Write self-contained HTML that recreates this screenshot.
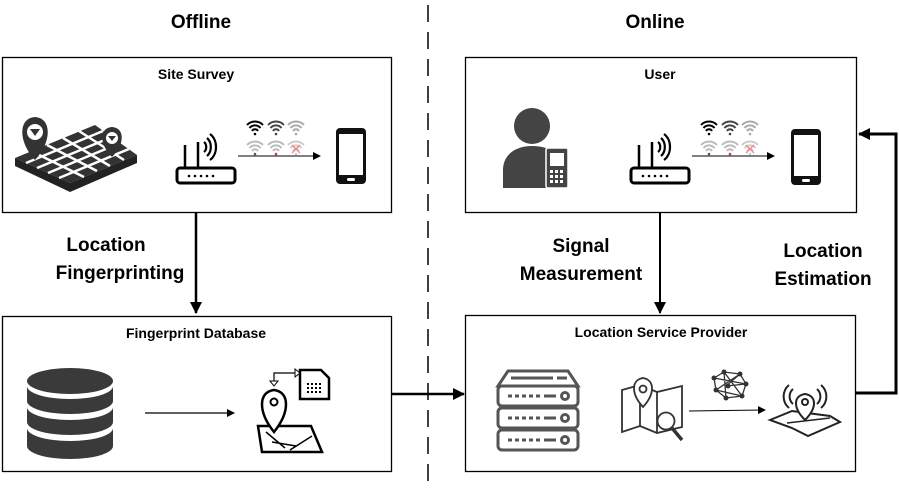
<!DOCTYPE html>
<html><head><meta charset="utf-8"><style>
html,body{margin:0;padding:0;background:#fff;}
svg{display:block;font-family:"Liberation Sans",sans-serif;}
.h{font-size:19px;font-weight:bold;}
.t{font-size:14px;font-weight:bold;}
.l{font-size:19px;font-weight:bold;}
</style></head><body>
<svg width="899" height="491" viewBox="0 0 899 491">
<defs>
<marker id="a" markerWidth="8" markerHeight="8" refX="7" refY="4" orient="auto" markerUnits="userSpaceOnUse"><path d="M0,0 L8,4 L0,8z" fill="#000"/></marker>
<marker id="b" markerWidth="12" markerHeight="12" refX="11" refY="6" orient="auto" markerUnits="userSpaceOnUse"><path d="M0,0 L12,6 L0,12z" fill="#000"/></marker>
<g id="router">
<rect x="0" y="32" width="58" height="15" rx="3" fill="none" stroke="#000" stroke-width="3"/>
<line x1="8" y1="32" x2="8" y2="9" stroke="#000" stroke-width="2.5"/>
<line x1="21" y1="32" x2="21" y2="6" stroke="#000" stroke-width="2.5"/>
<circle cx="12" cy="40" r="1.3"/><circle cx="18" cy="40" r="1.3"/><circle cx="24" cy="40" r="1.3"/><circle cx="30" cy="40" r="1.3"/><circle cx="36" cy="40" r="1.3"/>
<path d="M27,6 a5,6 0 0 1 0,10 M30,2 a9,11 0 0 1 0,18 M33,-2 a12,15 0 0 1 0,26" fill="none" stroke="#000" stroke-width="2.2"/>
</g>
<g id="phone">
<rect x="0" y="0" width="30" height="56" rx="4" fill="#111"/>
<rect x="3" y="6" width="24" height="41" fill="#fff"/>
<rect x="11" y="50" width="8" height="3" rx="1.5" fill="#fff"/>
</g>
<g id="wifi">
<path d="M-8,-3 a11,11 0 0 1 16,0 M-5.5,0 a7,7 0 0 1 11,0 M-3,3 a3.5,3.5 0 0 1 6,0" fill="none" stroke-width="2"/>
<circle cx="0" cy="6" r="1.3" stroke="none"/>
</g>
<g id="wifirow">
<use href="#wifi" x="0" y="0" stroke="#000" fill="#000"/>
<use href="#wifi" x="21" y="0" stroke="#444" fill="#444"/>
<use href="#wifi" x="41" y="0" stroke="#aaa" fill="#aaa"/>
<use href="#wifi" x="0" y="20" stroke="#bbb" fill="#555"/>
<use href="#wifi" x="21" y="20" stroke="#bbb" fill="#d33"/>
<use href="#wifi" x="41" y="20" stroke="#ccc" fill="#ccc"/>
<path d="M37,17 l8,8 M45,17 l-8,8" stroke="#e88" stroke-width="1.3"/>
<line x1="-17" y1="28" x2="65" y2="28" stroke="#000" stroke-width="1" marker-end="url(#a)"/>
</g>
</defs>

<text x="201" y="28" class="h" text-anchor="middle">Offline</text>
<text x="655" y="28" class="h" text-anchor="middle">Online</text>
<line x1="428" y1="5" x2="428" y2="491" stroke="#000" stroke-width="1.5" stroke-dasharray="17,10"/>

<rect x="2.5" y="57.5" width="389" height="155" fill="none" stroke="#000" stroke-width="1.3"/>
<rect x="465.5" y="57.5" width="391" height="155" fill="none" stroke="#000" stroke-width="1.3"/>
<rect x="2.5" y="316.5" width="389" height="155" fill="none" stroke="#000" stroke-width="1.3"/>
<rect x="465.5" y="315.5" width="390" height="156" fill="none" stroke="#000" stroke-width="1.3"/>

<text x="196" y="79" class="t" text-anchor="middle">Site Survey</text>
<text x="660" y="79" class="t" text-anchor="middle">User</text>
<text x="196" y="338" class="t" text-anchor="middle">Fingerprint Database</text>
<text x="661" y="337" class="t" text-anchor="middle">Location Service Provider</text>

<line x1="196" y1="213" x2="196" y2="313" stroke="#000" stroke-width="2.5" marker-end="url(#b)"/>
<line x1="660" y1="213" x2="660" y2="313" stroke="#000" stroke-width="2" marker-end="url(#b)"/>
<line x1="392" y1="394" x2="464" y2="394" stroke="#000" stroke-width="2.5" marker-end="url(#b)"/>
<polyline points="856,393 896,393 896,134 859,134" fill="none" stroke="#000" stroke-width="3" marker-end="url(#b)"/>

<text x="106" y="251" class="l" text-anchor="middle">Location</text>
<text x="120" y="279" class="l" text-anchor="middle">Fingerprinting</text>
<text x="581" y="252" class="l" text-anchor="middle">Signal</text>
<text x="581" y="280" class="l" text-anchor="middle">Measurement</text>
<text x="823" y="257" class="l" text-anchor="middle">Location</text>
<text x="823" y="285" class="l" text-anchor="middle">Estimation</text>

<!-- site survey: grid map -->
<g>
<path d="M15,158 L95,125 L137,155 L70,183z" fill="#333"/>
<path d="M15,158 L15,166 L70,192 L137,163 L137,155 L70,183z" fill="#222"/>
<g stroke="#fff" stroke-width="2.5">
<line x1="31" y1="151" x2="84" y2="177"/><line x1="47" y1="145" x2="97" y2="171"/><line x1="63" y1="138" x2="110" y2="166"/><line x1="79" y1="131" x2="124" y2="160"/>
<line x1="26" y1="163" x2="103" y2="131"/><line x1="37" y1="168" x2="112" y2="137"/><line x1="48" y1="173" x2="120" y2="143"/><line x1="59" y1="178" x2="129" y2="149"/>
</g>
<path d="M35,160 C18,142 18,118 35,117 C52,118 52,142 35,160z" fill="#333"/>
<circle cx="35" cy="132" r="8" fill="#fff"/><path d="M30,129 l10,0 l-5,7z" fill="#333"/>
<path d="M112,157 C99,144 99,128 112,127 C125,128 125,144 112,157z" fill="#333"/>
<circle cx="112" cy="138" r="6" fill="#fff"/><path d="M108,136 l8,0 l-4,5z" fill="#333"/>
</g>
<use href="#router" x="177" y="136"/>
<use href="#wifirow" x="255" y="128"/>
<use href="#phone" x="336" y="128"/>

<!-- user -->
<g fill="#444">
<circle cx="532" cy="126" r="18"/>
<path d="M503,188 L503,170 C503,155 515,146 532,146 C549,146 560,153 560,167 L560,188z"/>
<rect x="546" y="148" width="22" height="40" rx="2" fill="#444" stroke="#fff" stroke-width="1.5"/>
<rect x="550" y="153" width="14" height="13" fill="#fff"/>
<g fill="#fff"><rect x="550" y="170" width="3" height="3"/><rect x="555" y="170" width="3" height="3"/><rect x="560" y="170" width="3" height="3"/><rect x="550" y="175" width="3" height="3"/><rect x="555" y="175" width="3" height="3"/><rect x="560" y="175" width="3" height="3"/><rect x="550" y="180" width="3" height="3"/><rect x="555" y="180" width="3" height="3"/><rect x="560" y="180" width="3" height="3"/></g>
</g>
<use href="#router" x="631" y="136"/>
<use href="#wifirow" x="709" y="128"/>
<use href="#phone" x="791" y="129"/>

<!-- database -->
<g fill="#3a3a3a">
<ellipse cx="70" cy="381" rx="43" ry="13"/>
<path d="M27,386 a43,13 0 0 0 86,0 L113,401 a43,13 0 0 1 -86,0z"/>
<path d="M27,407 a43,13 0 0 0 86,0 L113,422 a43,13 0 0 1 -86,0z"/>
<path d="M27,428 a43,13 0 0 0 86,0 L113,446 a43,13 0 0 1 -86,0z"/>
</g>
<line x1="145" y1="413" x2="234" y2="413" stroke="#000" stroke-width="1.2" marker-end="url(#a)"/>
<g fill="none" stroke="#000" stroke-width="2.5">
<path d="M258,426 L311,426 L322,452 L262,452z"/>
<path d="M266,432 L285,448 M290,450 L312,436 M272,442 L296,446" stroke-width="1.5"/>
<path d="M274,432 C258,412 258,392 274,390 C290,392 290,412 274,432z" fill="#fff"/>
<circle cx="274" cy="402" r="3.5" stroke-width="2"/>
<path d="M300,370 L321,370 L329,378 L329,399 L300,399z" stroke-width="2.5"/>
<path d="M274,386 L274,373 L295,373" stroke-width="1.2"/>
</g>
<path d="M295,369 L300,373 L295,377z" fill="#fff" stroke="#000"/>
<path d="M270,381 L278,381 L274,386z" fill="#fff" stroke="#000"/>
<g fill="#000"><rect x="307" y="383" width="2" height="2"/><rect x="311" y="383" width="2" height="2"/><rect x="315" y="383" width="2" height="2"/><rect x="319" y="383" width="2" height="2"/><rect x="307" y="387" width="2" height="2"/><rect x="311" y="387" width="2" height="2"/><rect x="315" y="387" width="2" height="2"/><rect x="319" y="387" width="2" height="2"/><rect x="307" y="391" width="2" height="2"/><rect x="311" y="391" width="2" height="2"/><rect x="315" y="391" width="2" height="2"/><rect x="319" y="391" width="2" height="2"/></g>

<!-- server -->
<g fill="none" stroke="#555" stroke-width="3">
<path d="M498,386 L508,371 L568,371 L578,386z"/>
<rect x="498" y="386" width="80" height="20" rx="4"/>
<rect x="498" y="408" width="80" height="20" rx="4"/>
<rect x="498" y="430" width="80" height="20" rx="4"/>
<circle cx="565" cy="396" r="3.5"/><circle cx="565" cy="418" r="3.5"/><circle cx="565" cy="440" r="3.5"/>
</g>
<g stroke="#555" stroke-width="3"><line x1="511" y1="378" x2="553" y2="378"/><line x1="557" y1="378" x2="567" y2="378"/>
<path d="M508,396h4M515,396h4M522,396h4M529,396h4M536,396h4M544,396h12 M508,418h4M515,418h4M522,418h4M529,418h4M536,418h4M544,418h12 M508,440h4M515,440h4M522,440h4M529,440h4M536,440h4M544,440h12"/></g>
<!-- map search -->
<g fill="none" stroke="#333" stroke-width="1.8">
<path d="M622,390 L640,385 L657,392 L682,386 L682,427 L657,433 L640,426 L622,432z"/>
<line x1="640" y1="385" x2="640" y2="426"/><line x1="657" y1="392" x2="657" y2="433"/>
<path d="M643,407 C631,394 631,380 643,378 C655,380 655,394 643,407z" fill="#fff"/>
<circle cx="643" cy="389" r="3.5"/>
<circle cx="666" cy="421" r="8.5" fill="#fff"/>
<line x1="672" y1="428" x2="682" y2="440" stroke-width="3.5"/>
</g>
<line x1="689" y1="411" x2="765" y2="410" stroke="#000" stroke-width="1" marker-end="url(#a)"/>
<g stroke="#333" stroke-width="1.3" fill="none">
<path d="M714,378 L724,372 L740,374 L746,384 L742,396 L726,398 L716,390z M724,372 L726,398 M740,374 L716,390 M714,378 L746,384 M742,396 L724,372 M716,390 L742,396 M726,386 L740,374 M726,386 L746,384"/>
</g>
<g fill="#333"><circle cx="714" cy="378" r="2.5"/><circle cx="724" cy="372" r="2.5"/><circle cx="740" cy="374" r="2.5"/><circle cx="746" cy="384" r="2.5"/><circle cx="742" cy="396" r="2.5"/><circle cx="726" cy="398" r="2.5"/><circle cx="716" cy="390" r="2.5"/><circle cx="728" cy="386" r="2.5"/></g>
<g fill="none" stroke="#222" stroke-width="2">
<path d="M770,420 L792,411 L830,416 L840,422 L808,436 L792,428z"/>
<line x1="787" y1="423" x2="830" y2="418" stroke-width="1.5"/>
<path d="M805,420 C793,408 793,396 805,394 C817,396 817,408 805,420z" fill="#fff"/>
<circle cx="805" cy="402" r="3"/>
<path d="M793,389 a10,10 0 0 0 0,15 M789,385 a15,15 0 0 0 0,23 M817,389 a10,10 0 0 1 0,15 M821,385 a15,15 0 0 1 0,23"/>
</g>
</svg>
</body></html>
